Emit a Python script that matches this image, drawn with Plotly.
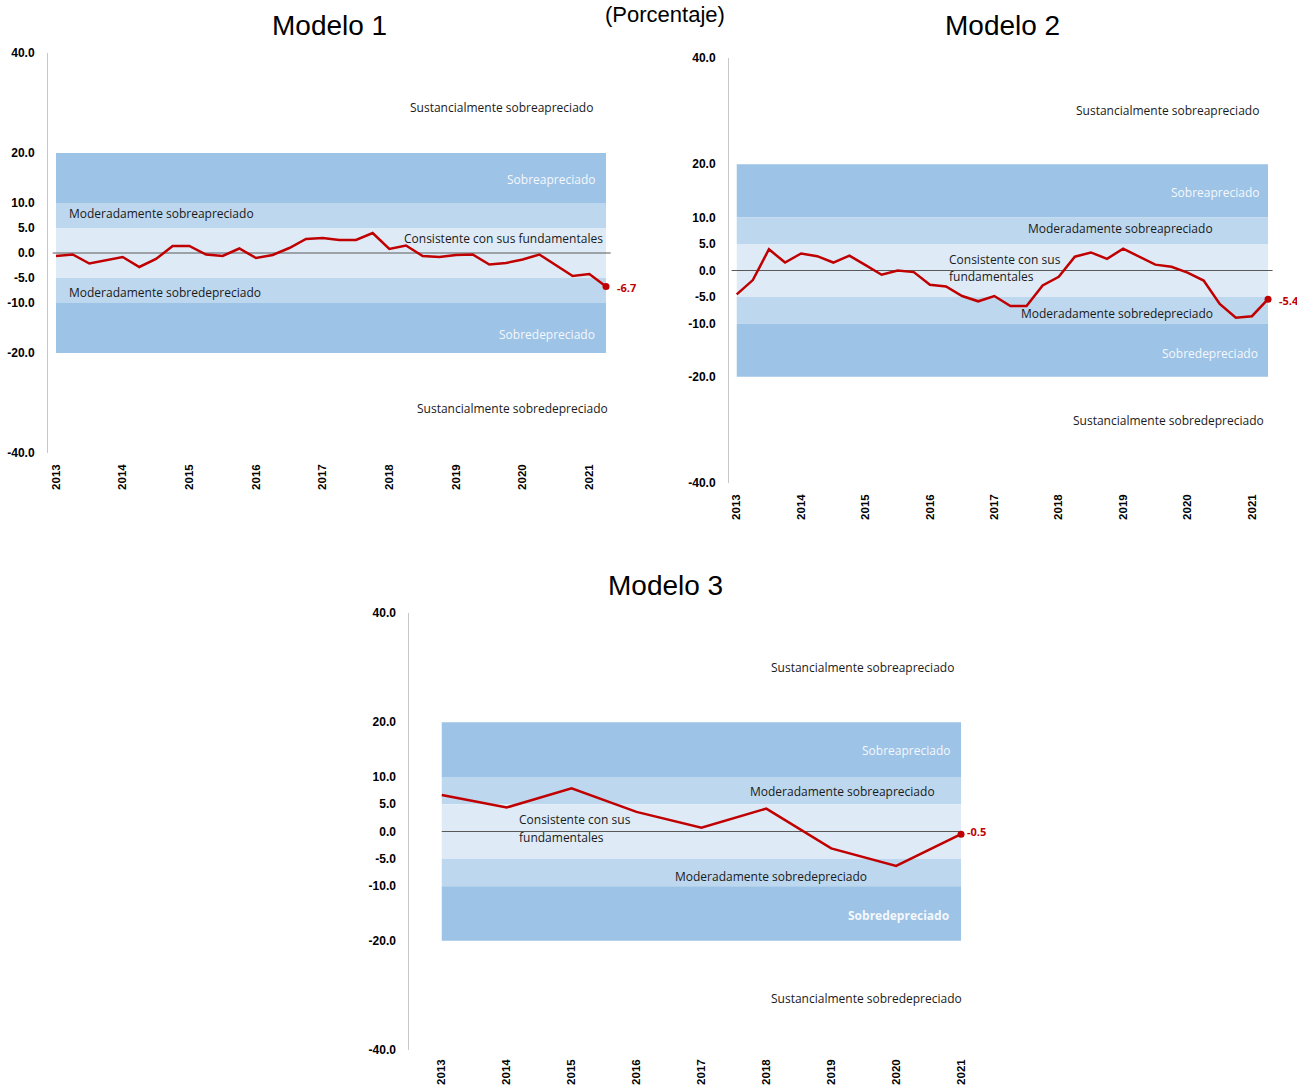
import plotly.graph_objects as go

W, H = 1297, 1085

# ---- data -------------------------------------------------------------
years = list(range(2013, 2022))
year_labels = [str(y) for y in years]

y_ticks = [40, 20, 10, 5, 0, -5, -10, -20, -40]

# quarterly misalignment estimates, 2013T1 - 2021T2 (percent)
modelo1 = [-0.6, -0.3, -2.1, -1.4, -0.8, -2.8, -1.2, 1.4, 1.4, -0.3,
           -0.6, 0.9, -1.0, -0.4, 1.0, 2.8, 3.0, 2.6, 2.6, 4.0,
           0.8, 1.5, -0.6, -0.8, -0.4, -0.3, -2.3, -2.0, -1.3, -0.3,
           -2.5, -4.6, -4.2, -6.7]
modelo2 = [-4.5, -1.8, 4.0, 1.5, 3.2, 2.7, 1.5, 2.8, 1.0, -0.8,
           0.0, -0.3, -2.7, -3.0, -4.8, -5.8, -4.8, -6.7, -6.7, -2.8,
           -1.2, 2.6, 3.4, 2.2, 4.1, 2.6, 1.1, 0.7, -0.4, -1.9,
           -6.3, -8.9, -8.6, -5.4]
# annual estimates, 2013 - 2021
modelo3 = [6.7, 4.4, 7.9, 3.6, 0.7, 4.2, -3.1, -6.3, -0.5]

# valuation zones (upper bound, lower bound)
zone_edges = [20, 10, 5, -5, -10, -20]
zone_colors = ["#9DC3E6", "#BDD7EE", "#DEEBF7", "#BDD7EE", "#9DC3E6"]

RED = "#C00000"
TXT_FONT = "Open Sans"
TICK_FONT = "Liberation Sans"
TITLE_FONT = "Liberation Sans Narrow, Liberation Sans, Arial, sans-serif"


def fx(p):
    return p / W


def fy(p):
    return 1 - p / H


quarters1 = [2013 + i / 4 for i in range(len(modelo1))]
quarters2 = [2013 + i / 4 for i in range(len(modelo2))]

panels = [
    dict(ax="", x=quarters1, y=modelo1, xdom=(48, 616), ydom=(53, 453),
         xrange=(2012.88, 2021.40), band=(2013, quarters1[-1]),
         zero=(2012.95, 2021.32), lab_shift=(9, -1), xstand=8),
    dict(ax="2", x=quarters2, y=modelo2, xdom=(729, 1277.7), ydom=(58, 483),
         xrange=(2012.88, 2021.40), band=(2013, quarters2[-1]),
         zero=(2012.92, 2021.32), lab_shift=(9, -1), xstand=8),
    dict(ax="3", x=years, y=modelo3, xdom=(409.3, 993.5), ydom=(613, 1050),
         xrange=(2012.5, 2021.5), band=(2013, years[-1]),
         zero=(2013, 2021.01), lab_shift=(4, 3), xstand=6),
]

fig = go.Figure()
shapes = []
annotations = []
layout_axes = {}

for p in panels:
    xa = "x" + p["ax"]
    ya = "y" + p["ax"]

    # valuation zones
    for i, col in enumerate(zone_colors):
        shapes.append(dict(type="rect", xref=xa, yref=ya,
                           x0=p["band"][0], x1=p["band"][1],
                           y0=zone_edges[i + 1], y1=zone_edges[i],
                           fillcolor=col, line=dict(width=0), layer="below"))
    # zero reference
    shapes.append(dict(type="line", xref=xa, yref=ya,
                       x0=p["zero"][0], x1=p["zero"][1], y0=0, y1=0,
                       line=dict(color="#595959", width=1), layer="below"))

    fig.add_trace(go.Scatter(x=p["x"], y=p["y"], mode="lines",
                             line=dict(color=RED, width=2.5),
                             xaxis=xa, yaxis=ya, showlegend=False,
                             hoverinfo="skip", cliponaxis=False))
    fig.add_trace(go.Scatter(x=[p["x"][-1]], y=[p["y"][-1]], mode="markers",
                             marker=dict(color=RED, size=7),
                             xaxis=xa, yaxis=ya, showlegend=False,
                             cliponaxis=False))
    annotations.append(dict(xref=xa, yref=ya, x=p["x"][-1], y=p["y"][-1],
                            text=f"{p['y'][-1]:.1f}", showarrow=False,
                            xanchor="left", yanchor="middle",
                            xshift=p["lab_shift"][0], yshift=p["lab_shift"][1],
                            font=dict(family=TXT_FONT, size=11, color=RED,
                                      weight="bold")))

    layout_axes["xaxis" + p["ax"]] = dict(
        domain=[fx(p["xdom"][0]), fx(p["xdom"][1])], range=list(p["xrange"]),
        anchor=ya, tickvals=years, ticktext=year_labels, tickangle=-90,
        showgrid=False, zeroline=False, showline=False, ticks="",
        ticklabelstandoff=p["xstand"], automargin=False,
        tickfont=dict(family=TICK_FONT, size=11.5, color="#000000", weight="bold"))
    layout_axes["yaxis" + p["ax"]] = dict(
        domain=[fy(p["ydom"][1]), fy(p["ydom"][0])], range=[-40, 40],
        anchor=xa, tickvals=y_ticks, ticktext=[f"{v:.1f}" for v in y_ticks],
        showgrid=False, zeroline=False, showline=True, linecolor="#C8C8C8",
        linewidth=1, ticks="", ticklabelstandoff=10, automargin=False,
        tickfont=dict(family=TICK_FONT, size=12, color="#000000", weight="bold"))


def label(text, x, y, anchor="left", color="#1a1a1a", bold=False, size=12):
    annotations.append(dict(xref="paper", yref="paper", x=fx(x), y=fy(y),
                            text=text, showarrow=False, xanchor=anchor,
                            yanchor="middle", align=anchor if anchor != "center" else "center",
                            font=dict(family=TXT_FONT, size=size, color=color,
                                      weight="bold" if bold else "normal")))


WHITE = "#F5F8FC"

# Modelo 1 zone labels
label("Sustancialmente sobreapreciado", 595, 108, "right")
label("Sobreapreciado", 597, 179, "right", WHITE)
label("Moderadamente sobreapreciado", 67, 213, "left")
label("Consistente con sus fundamentales", 605, 238, "right")
label("Moderadamente sobredepreciado", 67, 292, "left")
label("Sobredepreciado", 597, 334, "right", WHITE)
label("Sustancialmente sobredepreciado", 610, 408, "right")

# Modelo 2 zone labels
label("Sustancialmente sobreapreciado", 1261, 110, "right")
label("Sobreapreciado", 1261, 193, "right", WHITE)
label("Moderadamente sobreapreciado", 1120.5, 229, "center")
label("Consistente con sus", 947, 259, "left")
label("fundamentales", 947, 277, "left")
label("Moderadamente sobredepreciado", 1117, 314, "center")
label("Sobredepreciado", 1260, 353, "right", WHITE)
label("Sustancialmente sobredepreciado", 1266, 420, "right")

# Modelo 3 zone labels
label("Sustancialmente sobreapreciado", 956, 667, "right")
label("Sobreapreciado", 952, 750, "right", WHITE)
label("Moderadamente sobreapreciado", 937, 791, "right")
label("Consistente con sus", 517, 819, "left")
label("fundamentales", 517, 837, "left")
label("Moderadamente sobredepreciado", 771, 876, "center")
label("Sobredepreciado", 951, 915, "right", WHITE, bold=True)
label("Sustancialmente sobredepreciado", 964, 998, "right")

# unit note at the very top
annotations.append(dict(xref="paper", yref="paper", x=fx(665), y=1.0,
                        text="(Porcentaje)", showarrow=False, xanchor="center",
                        yanchor="top",
                        font=dict(family=TITLE_FONT, size=22, color="#000000")))

# panel titles
for txt, x, y in [("Modelo 1", 329, 25), ("Modelo 2", 1002, 25),
                  ("Modelo 3", 665, 585)]:
    annotations.append(dict(xref="paper", yref="paper", x=fx(x), y=fy(y),
                            text=txt, showarrow=False, xanchor="center",
                            yanchor="middle",
                            font=dict(family=TITLE_FONT, size=28, color="#000000")))

fig.update_layout(
    width=W, height=H, margin=dict(l=0, r=0, t=0, b=0, autoexpand=False),
    paper_bgcolor="white", plot_bgcolor="rgba(0,0,0,0)",
    shapes=shapes, annotations=annotations, showlegend=False,
    **layout_axes,
)

fig.write_html("out.html")
